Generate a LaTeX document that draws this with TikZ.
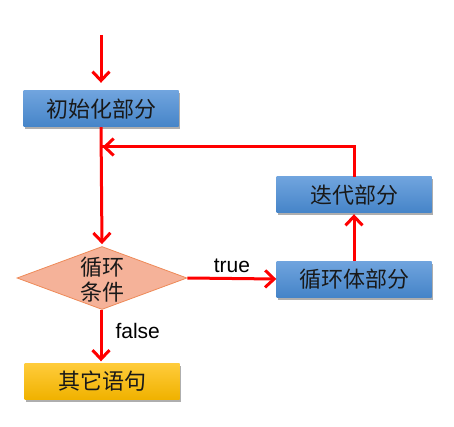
\documentclass[tikz,border=0pt]{standalone}
\usepackage{fontspec}
\setmainfont{Liberation Sans}
\newfontfamily\cjk{Noto Sans CJK SC}
\usetikzlibrary{arrows.meta,shapes.geometric,shadows}
\definecolor{bluetop}{HTML}{70A4DE}
\definecolor{bluebot}{HTML}{4584C8}
\definecolor{yeltop}{HTML}{FFCC3C}
\definecolor{yelbot}{HTML}{F0B200}
\definecolor{dfill}{HTML}{F5B299}
\definecolor{ddraw}{HTML}{EE8A58}
\definecolor{arrred}{HTML}{FF0000}
\begin{document}
\begin{tikzpicture}[x=1pt,y=-1pt,
  boxbase/.style={rectangle, minimum width=155pt, minimum height=36pt, inner sep=0pt,
    font=\cjk\fontsize{22}{24}\selectfont, text=black!90,
    drop shadow={shadow xshift=1.5pt, shadow yshift=-2.5pt, opacity=0.45, fill=black!70}},
  bluebox/.style={boxbase, top color=bluetop, bottom color=bluebot},
  yelbox/.style={boxbase, top color=yeltop, bottom color=yelbot},
  decision/.style={diamond, draw=ddraw, fill=dfill, line width=0.8pt,
    minimum width=170pt, minimum height=63pt, inner sep=0pt, aspect=2.7},
  flow/.style={draw=arrred, line width=3pt,
    -{Straight Barb[length=9pt, width=17pt, line width=3pt]}},
  plain/.style={draw=arrred, line width=3pt},
  lbl/.style={font=\fontsize{21}{23}\selectfont, text=black}]
\useasboundingbox (0,0) rectangle (454,427);

\node[bluebox] (init) at (101,109) {初始化部分};
\node[decision] (cond) at (102,278) {};
\node[font=\cjk\fontsize{22}{25}\selectfont, align=center, text=black!90] (condtext) at (102,280) {循环\\条件};
\node[bluebox] (body) at (354,279) {循环体部分};
\node[bluebox] (iter) at (354,195) {迭代部分};
\node[yelbox] (other) at (102,381) {其它语句};

\coordinate (start) at (101,35);
\coordinate (turn) at (354,147);
\coordinate (merge) at (101,147);

\draw[flow, shorten >=8pt] (start) -- (start |- init.north);
\draw[flow, shorten >=2pt] (init.south -| start) -- (cond.north);
\draw[flow] (cond.east) -- node[lbl, above=1pt] (truelbl) {true} (body.west);
\draw[flow, shorten >=1pt] (body.north) -- (iter.south);
\draw[plain] (iter.north) -- (turn) -- ([xshift=-1.5pt]turn -| merge);
\draw[flow] (turn) -- ([xshift=1.5pt]merge);
\draw[flow, shorten >=1.5pt] (cond.south -| start) -- (other.north -| start);
\node[lbl, anchor=west] (falselbl) at (112,331) {false};
\end{tikzpicture}
\end{document}
